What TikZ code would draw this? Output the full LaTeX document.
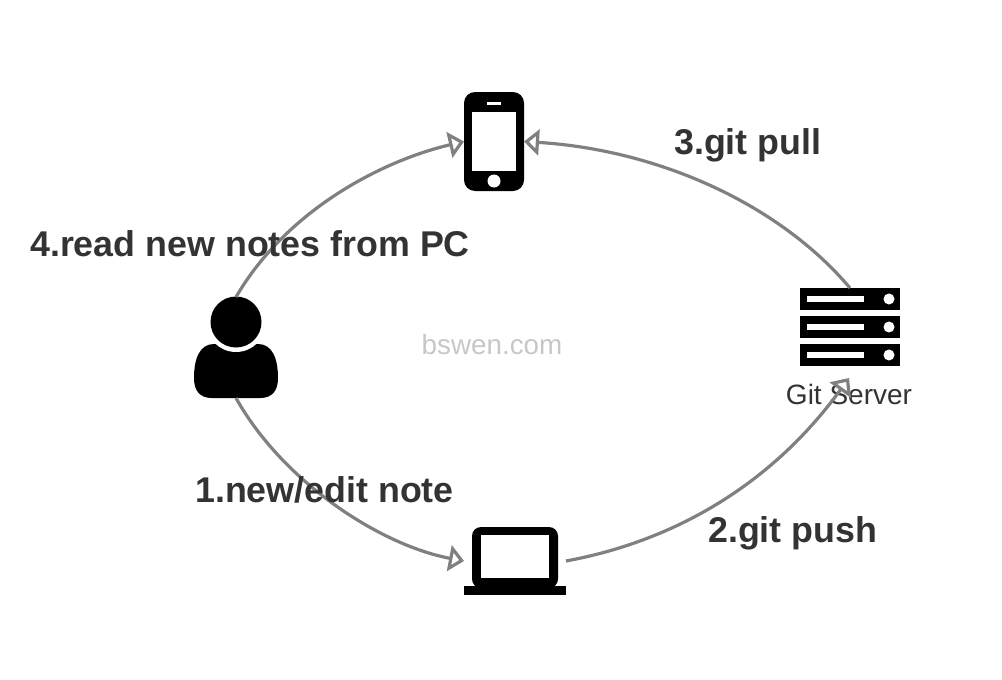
\documentclass[tikz,border=0pt]{standalone}
\usepackage{fontspec}
\setmainfont{Liberation Sans}
\usetikzlibrary{arrows.meta,positioning}

\begin{document}
\begin{tikzpicture}[
  x=1pt, y=-1pt,
  icon/.style={inner sep=0pt, outer sep=0pt},
  flow/.style={-{Triangle[length=15pt, width=26pt, fill=white]}, draw=black!50, line width=3.2pt},
  step label/.style={font=\fontsize{35.8}{36}\selectfont\bfseries, text=black!80, inner sep=0pt, anchor=base west}
]
\useasboundingbox (0,0) rectangle (1002,680);

% phone
\node[icon, fill=black, rounded corners=11pt, minimum width=60pt, minimum height=99pt] (phone) at (494,141.5) {};
\node[icon, fill=white, minimum width=44pt, minimum height=59pt] (screen) at (494,141.5) {};
\node[icon, fill=white, minimum width=14pt, minimum height=3pt] (speaker) at (494,103) {};
\node[icon, fill=white, circle, minimum size=13pt] (homekey) at (494,181) {};

% server, three identical bars
\node[icon, minimum width=100pt, minimum height=78pt] (server) at (850,327) {};
\foreach \y/\name in {299/rackA, 327/rackB, 355/rackC} {
  \node[icon, fill=black, minimum width=100pt, minimum height=22pt] (\name) at (850,\y) {};
  \node[icon, fill=white, minimum width=57pt, minimum height=6pt] (\name slot) at (835.5,\y) {};
  \node[icon, fill=white, circle, minimum size=11pt] (\name led) at (889,\y) {};
}
\node[icon, font=\fontsize{28}{28}\selectfont, text=black!80, minimum height=32pt] (serverlabel) at (849,394) {Git Server};

% laptop
\node[icon, minimum width=102pt, minimum height=68pt] (laptop) at (515,561) {};
\node[icon, fill=black, rounded corners=9pt, minimum width=86pt, minimum height=61pt] (lid) at (515,557.5) {};
\node[icon, fill=white, minimum width=68pt, minimum height=43pt] (display) at (515,556.5) {};
\node[icon, fill=black, minimum width=102pt, minimum height=9pt] (base) at (515,590.5) {};

% user
\node[icon, minimum width=84pt, minimum height=101pt] (user) at (236,347.5) {};
\fill (194,378) .. controls (194,358) and (200,344) .. (214,344) -- (258,344)
  .. controls (272,344) and (278,358) .. (278,378)
  .. controls (278,391) and (272,398) .. (260,398) -- (212,398)
  .. controls (200,398) and (194,391) .. (194,378) -- cycle;
\fill[white] (236,322) circle (30);
\fill (236,322) circle (25.5);

\draw[flow] (user.north) .. controls (288,208) and (385,160) .. (phone.west);
\draw[flow] (server.north) .. controls (780,205) and (660,150) .. (phone.east);
\draw[flow] (user.south) .. controls (283,482) and (380,545) .. (laptop.west);
\draw[flow] (laptop.east) .. controls (680,540) and (775,480) .. (serverlabel.north);

\node[step label] (readlabel) at (30,256) {4.read new notes from PC};
\node[step label] (pulllabel) at (674,154) {3.git pull};
\node[step label] (pushlabel) at (708,542) {2.git push};
\node[step label] (editlabel) at (195,502) {1.new/edit note};
\node[icon, font=\fontsize{27.8}{28}\selectfont, text=black!22] (mark) at (492,345) {bswen.com};
\end{tikzpicture}
\end{document}
